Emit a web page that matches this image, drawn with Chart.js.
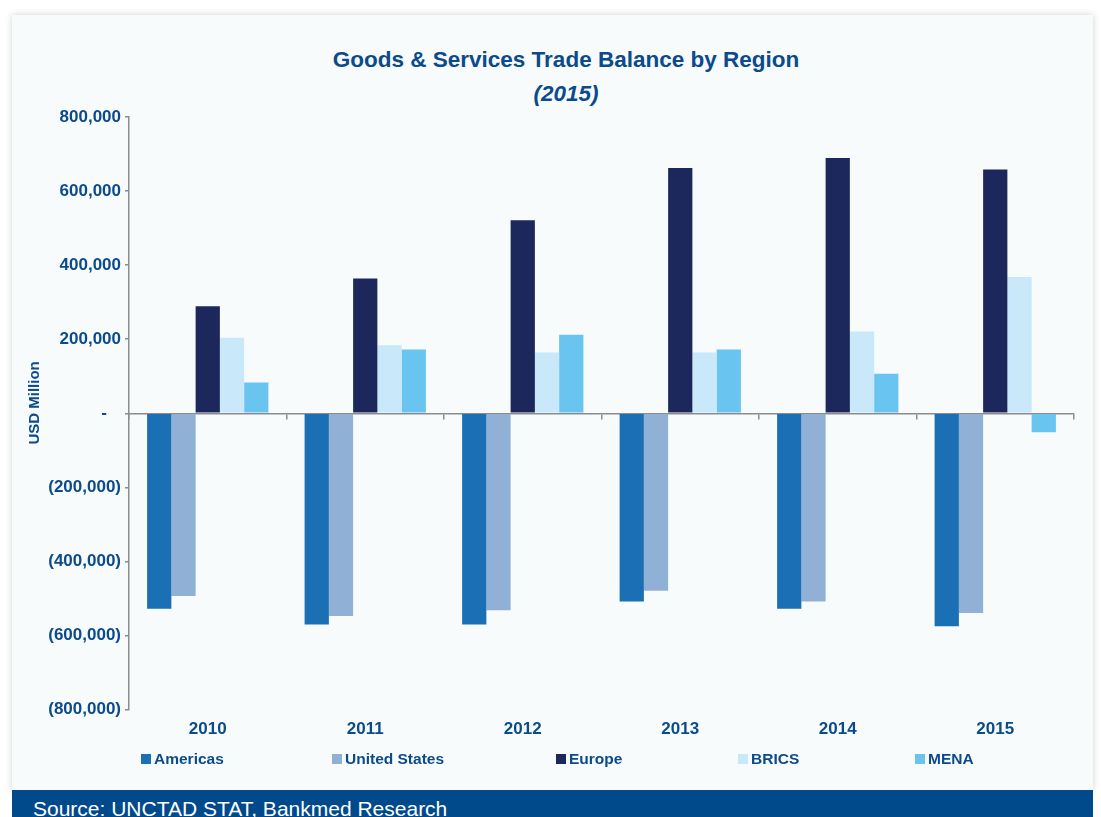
<!DOCTYPE html>
<html>
<head>
<meta charset="utf-8">
<script src="https://cdn.jsdelivr.net/npm/chart.js@4.4.1/dist/chart.umd.min.js"></script>
<style>
  html, body { margin: 0; padding: 0; background: #fff; overflow: hidden; }
  body { width: 1101px; height: 817px; position: relative; font-family: "Liberation Sans", Arial, sans-serif; }
  #card { position: absolute; left: 12px; top: 15px; width: 1081px; height: 776px; background: #f7fbfc;
          box-shadow: 0 0 7px rgba(0,0,0,0.18); }
  #chart { position: absolute; left: 12px; top: 15px; }
  .ttl { position: absolute; left: 266px; width: 600px; text-align: center; color: #0b4a8b;
         font-weight: bold; font-size: 22.5px; line-height: 1; white-space: nowrap; }
  #source { position: absolute; left: 12px; top: 790px; width: 1081px; height: 30px; background: #004a8c; }
  #source span { position: absolute; left: 21px; top: 8px; color: #fff; font-size: 21px; line-height: 21px; white-space: nowrap; }
  .lg { position: absolute; top: 751px; height: 16px; line-height: 16px; font-weight: bold; font-size: 15.5px;
        color: #0b4a8b; white-space: nowrap; }
  .lg i { position: absolute; left: 0; top: 3px; width: 10px; height: 10px; }
  .lg b { position: absolute; left: 13px; top: 0; }
</style>
</head>
<body>
<div id="card"></div>
<div class="ttl" style="top:49px">Goods &amp; Services Trade Balance by Region</div>
<div class="ttl" style="top:83px;font-style:italic">(2015)</div>
<canvas id="chart" width="1081" height="775"></canvas>
<div id="legend"></div>
<div id="source"><span>Source: UNCTAD STAT, Bankmed Research</span></div>
<script>
// values in USD million
const years = ["2010", "2011", "2012", "2013", "2014", "2015"];
const seriesNames = ["Americas", "United States", "Europe", "BRICS", "MENA"];
const seriesColors = ["#1a6fb5", "#91b0d6", "#1c285c", "#c9e8f9", "#69c4f0"];

const americas = [-528000, -570000, -570000, -508000, -528000, -575000];
const unitedStates = [-493000, -547000, -532000, -479000, -508000, -539000];
const europe = [289000, 364000, 521000, 662000, 689000, 658000];
const brics = [204000, 184000, 164000, 164000, 221000, 368000];
const mena = [83000, 172000, 212000, 172000, 107000, -51000];

const yMin = -800000;
const yMax = 800000;
const yStep = 200000;

const textBlue = "#0b4a8b";
const axisGray = "#8c8c8c";
const font = "'Liberation Sans', Arial, sans-serif";

function fmtTick(v) {
  if (v === 0) return "-   ";
  const s = Math.abs(v).toLocaleString("en-US");
  return v < 0 ? "(" + s + ")" : s;
}

// legend in HTML so the item spacing can follow the original
const legendLeft = [141, 332, 556, 738, 915];
const legend = document.getElementById("legend");
seriesNames.forEach((name, i) => {
  const d = document.createElement("div");
  d.className = "lg";
  d.style.left = legendLeft[i] + "px";
  d.innerHTML = '<i style="background:' + seriesColors[i] + '"></i><b>' + name + "</b>";
  legend.appendChild(d);
});

const allSeries = [americas, unitedStates, europe, brics, mena];

new Chart(document.getElementById("chart"), {
  type: "bar",
  data: {
    labels: years,
    datasets: allSeries.map((vals, i) => ({
      label: seriesNames[i],
      data: vals,
      backgroundColor: seriesColors[i],
      borderWidth: 0,
      categoryPercentage: 0.77,
      barPercentage: 1.0,
    })),
  },
  options: {
    responsive: false,
    animation: false,
    layout: { padding: { top: 102, right: 19, bottom: 40, left: 0 } },
    plugins: {
      legend: { display: false },
      title: { display: false },
      tooltip: { enabled: false },
    },
    scales: {
      x: {
        type: "category",
        position: "bottom",
        offset: true,
        grid: { display: false, drawTicks: false },
        border: { display: false },
        ticks: {
          padding: 10,
          color: textBlue,
          font: { family: font, size: 17, weight: "bold" },
        },
      },
      x2: {
        type: "category",
        axis: "x",
        position: { y: 0 },
        offset: true,
        z: 1,
        grid: {
          offset: true,
          drawOnChartArea: false,
          drawTicks: true,
          tickLength: 5,
          color: axisGray,
          lineWidth: 1.5,
        },
        border: { display: true, color: axisGray, width: 1.5 },
        ticks: { display: false },
      },
      y: {
        min: yMin,
        max: yMax,
        afterFit: (scale) => { scale.width = 117; },
        grid: {
          drawOnChartArea: false,
          drawTicks: true,
          tickLength: 4,
          color: axisGray,
          lineWidth: 1.5,
        },
        border: { display: true, color: axisGray, width: 1.5 },
        ticks: {
          stepSize: yStep,
          padding: 4,
          color: textBlue,
          font: { family: font, size: 17, weight: "bold" },
          callback: (v) => fmtTick(v),
        },
        title: {
          display: true,
          text: "     USD Million",
          color: textBlue,
          padding: { top: 14 },
          font: { family: font, size: 15, weight: "bold" },
        },
      },
    },
  },
});
</script>
</body>
</html>
